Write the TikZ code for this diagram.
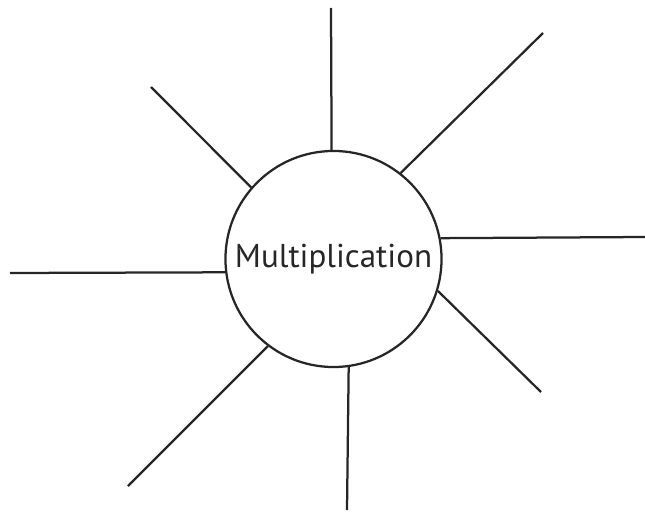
\documentclass[tikz,border=0pt]{standalone}
\usepackage{fontspec}
\newfontfamily\labelfont{PT Sans}
\begin{document}
\begin{tikzpicture}[x=0.025cm, y=-0.025cm]
    % Define styles
    \tikzstyle{hub} = [circle, draw=black!85, line width=1.6pt, inner sep=0pt, minimum size=5.4cm, font=\labelfont\fontsize{23.5}{28}\selectfont, text=black!85]
    \tikzstyle{spoke} = [draw=black!85, line width=1.6pt]

    \useasboundingbox (0,0) rectangle (645,512);

    % Centre
    \node[hub] (hub) at (333.5,259) {Multiplication};

    % Free ends
    \coordinate (top) at (331,8);
    \coordinate (topright) at (543,33);
    \coordinate (right) at (645,237);
    \coordinate (lowright) at (541,392);
    \coordinate (bottom) at (347,510);
    \coordinate (lowleft) at (128,486);
    \coordinate (left) at (10,273);
    \coordinate (topleft) at (151,87);

    % Spokes
    \draw[spoke] (hub.91) -- (top);
    \draw[spoke] (hub.52) -- (topright);
    \draw[spoke] (hub.11.6) -- (right);
    \draw[spoke] (hub.-17) -- (lowright);
    \draw[spoke] (hub.-82.9) -- (bottom);
    \draw[spoke] (hub.-127) -- (lowleft);
    \draw[spoke] (hub.187.6) -- (left);
    \draw[spoke] (hub.139) -- (topleft);
\end{tikzpicture}
\end{document}
